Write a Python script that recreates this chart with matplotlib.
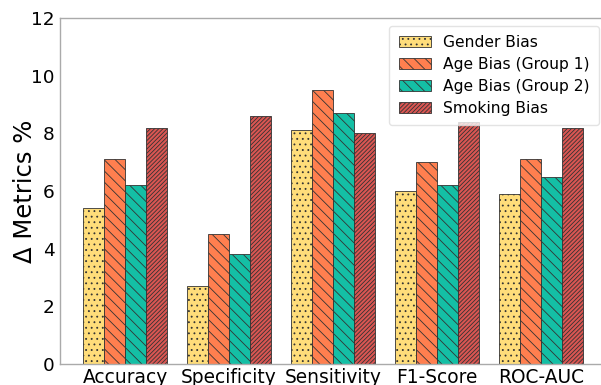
import matplotlib
matplotlib.use("Agg")
import matplotlib.pyplot as plt
import numpy as np

plt.rcParams['hatch.linewidth'] = 0.6

categories = ["Accuracy", "Specificity", "Sensitivity", "F1-Score", "ROC-AUC"]
series_names = ["Gender Bias", "Age Bias (Group 1)", "Age Bias (Group 2)", "Smoking Bias"]
gender = [5.4, 2.7, 8.1, 6.0, 5.9]
age1 = [7.1, 4.5, 9.5, 7.0, 7.1]
age2 = [6.2, 3.8, 8.7, 6.2, 6.5]
smoking = [8.2, 8.6, 8.0, 8.4, 8.2]
yticks = [0, 2, 4, 6, 8, 10, 12]

colors = ["#FFDD7A", "#FF7F4F", "#14BFA5", "#DA5652"]
hatches = ["...", "\\\\\\", "\\\\\\", "////////"]

fig = plt.figure(figsize=(6.01, 3.85), dpi=100)
ax = fig.add_axes([60/601, 1 - 364/385, (606-60)/601, (364-18)/385])

x = np.arange(len(categories))
w = 0.2
for i, (vals, name) in enumerate(zip([gender, age1, age2, smoking], series_names)):
    ax.bar(x + (i - 1.5) * w, vals, w, color=colors[i], hatch=hatches[i],
           edgecolor="#333333", linewidth=0.6, label=name)

ax.set_xlim(-0.625, 4.625)
ax.set_ylim(0, 12)
ax.set_yticks(yticks)
ax.set_xticks(x)
ax.set_xticklabels(categories, fontsize=13.4)
ax.tick_params(axis='y', labelsize=13.3, length=0, pad=4)
ax.tick_params(axis='x', length=0, pad=3)
ax.set_ylabel("Δ Metrics %", fontsize=17.5)
ax.yaxis.set_label_coords(-0.042, 0.5)
for s in ax.spines.values():
    s.set_color("#aaaaaa")
    s.set_linewidth(1)

leg = ax.legend(loc="upper right", fontsize=11.2, frameon=True, fancybox=True,
                bbox_to_anchor=(1.002, 1.0), handlelength=2.05,
                handletextpad=0.83, borderpad=0.6, labelspacing=0.45)
leg.get_frame().set_edgecolor("#dddddd")

fig.savefig("out.png", dpi=100)
